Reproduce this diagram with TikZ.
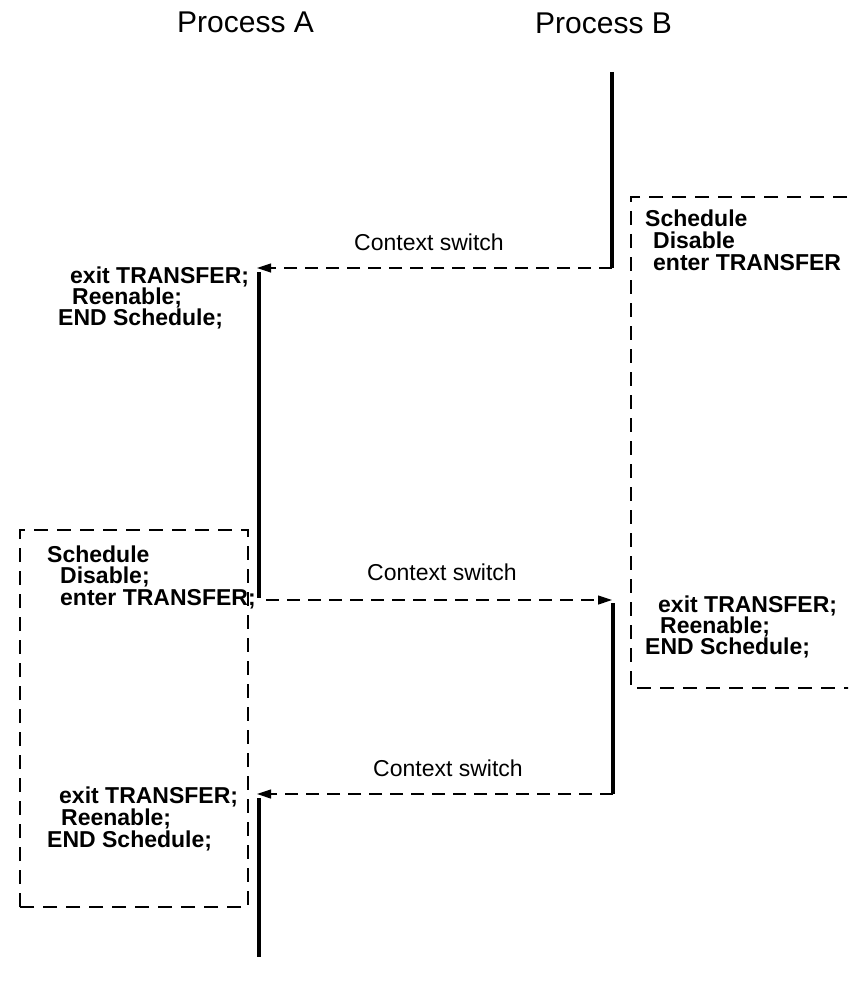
\documentclass[tikz,border=0pt]{standalone}
\usepackage{fontspec}
\setmainfont{Liberation Sans}
\usetikzlibrary{arrows.meta}
\begin{document}
\begin{tikzpicture}[x=1pt,y=-1pt,
 life/.style={line width=4pt},
 msg/.style={line width=1.2pt, dash pattern=on 13pt off 8pt, -{Triangle[length=14pt,width=9pt]}},
 box/.style={line width=1.2pt, dash pattern=on 14pt off 9pt},
 code/.style={font=\fontsize{23}{21}\selectfont\bfseries, anchor=base west, inner sep=0pt, text height=16pt, text depth=4pt},
 lbl/.style={font=\fontsize{23}{27}\selectfont, anchor=base west, inner sep=0pt},
 ttl/.style={font=\fontsize{30}{34}\selectfont, anchor=base west, inner sep=0pt}]
\useasboundingbox (0,0) rectangle (848,984);
\clip (0,0) rectangle (848,984);
\fill[white] (0,0) rectangle (848,984);
% titles
\node[ttl] (pa) at (177,33) {Process A};
\node[ttl] (pb) at (535,34) {Process B};
% lifeline coordinates
\coordinate (b0) at (612,72);
\coordinate (b1) at (612,268);
\coordinate (t1) at (257,268);
\coordinate (a1t) at (259,272);
\coordinate (a1b) at (259,598);
\coordinate (s2) at (266,600);
\coordinate (t2) at (612,600);
\coordinate (b2t) at (613,603);
\coordinate (b2b) at (613,794);
\coordinate (t3) at (257,794);
\coordinate (a2t) at (259,798);
\coordinate (a2b) at (259,957);
% lifelines
\draw[life] (b0) -- (b1);
\draw[life] (a1t) -- (a1b);
\draw[life] (b2t) -- (b2b);
\draw[life] (a2t) -- (a2b);
% messages
\draw[msg] (b1) -- (t1);
\draw[msg] (s2) -- (t2);
\draw[msg] (b2b) -- (t3);
\node[lbl] (c1) at (354,251) {Context switch};
\node[lbl] (c2) at (367,580) {Context switch};
\node[lbl] (c3) at (373,776) {Context switch};
% boxes
\draw[box] (20,907) -- (20,530) -- (248,530) -- (248,907) -- cycle;
\draw[box] (870,197) -- (631,197) -- (631,688) -- (870,688);
% code texts
\node[code] (l1) at (70,283) {exit TRANSFER;};
\node[code] (l2) at (72,304) {Reenable;};
\node[code] (l3) at (58,325) {END Schedule;};
\node[code] (r1) at (645,227) {Schedule};
\node[code] (r2) at (653,248) {Disable};
\node[code] (r3) at (653,270) {enter TRANSFER};
\node[code] (m1) at (47,562) {Schedule};
\node[code] (m2) at (60,583) {Disable;};
\node[code] (m3) at (60,605) {enter TRANSFER;};
\node[code] (r4) at (658,612) {exit TRANSFER;};
\node[code] (r5) at (660,633) {Reenable;};
\node[code] (r6) at (645,654) {END Schedule;};
\node[code] (n1) at (59,803) {exit TRANSFER;};
\node[code] (n2) at (61,825) {Reenable;};
\node[code] (n3) at (47,847) {END Schedule;};
\end{tikzpicture}
\end{document}
